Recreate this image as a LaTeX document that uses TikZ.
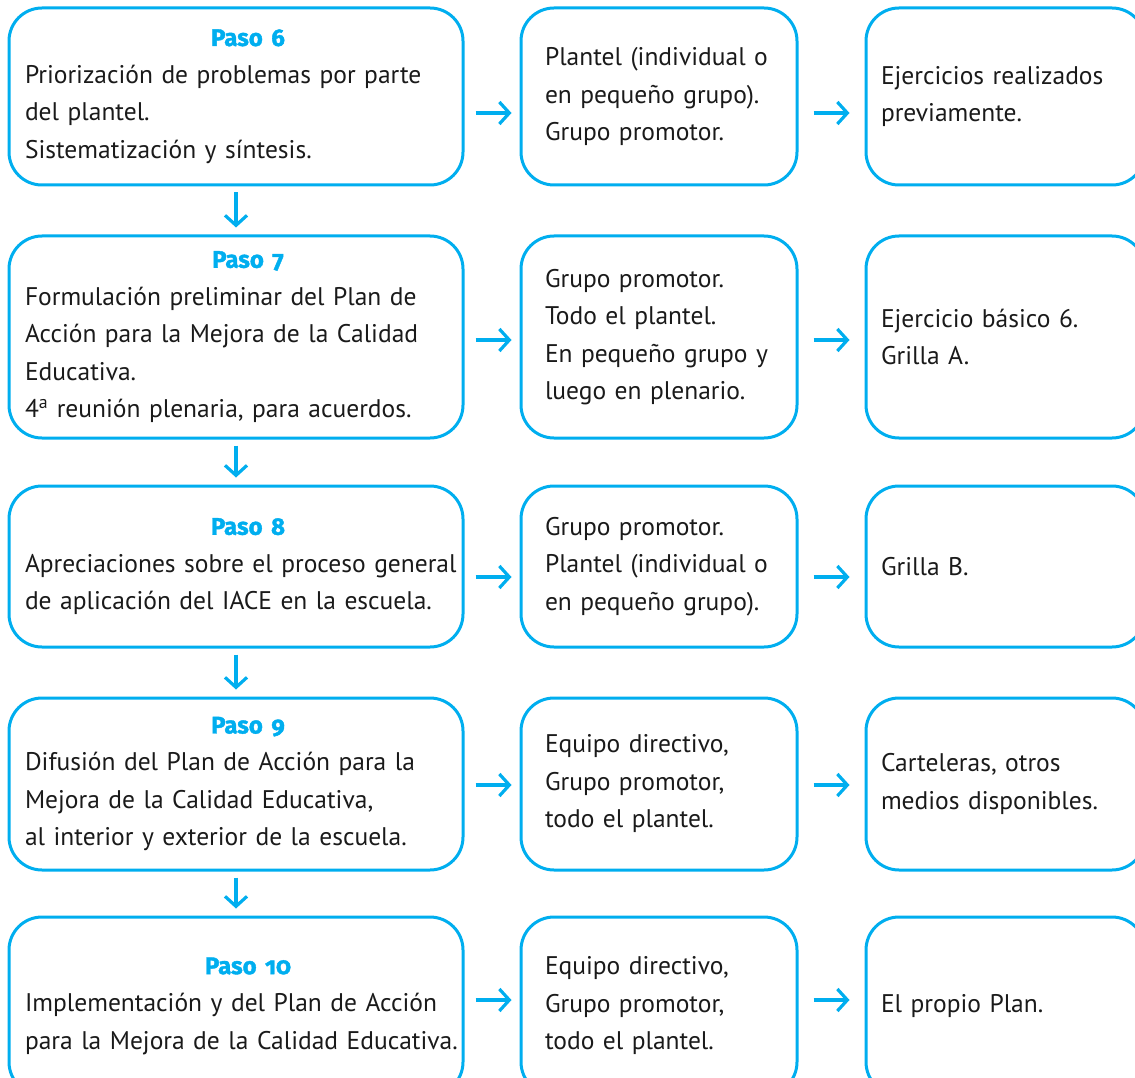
\documentclass[tikz,border=0pt]{standalone}
\usepackage{fontspec}
\setmainfont{PT Sans}
\newfontfamily\pasofont[Numbers=OldStyle,BoldFeatures={FakeBold=1.6}]{Fira Sans}
\usetikzlibrary{arrows.meta}
\definecolor{iacecyan}{RGB}{0,174,239}
\definecolor{ink}{RGB}{26,26,26}
\newcommand{\paso}[1]{{\centering\hspace*{24pt}\fontsize{24}{30}\pasofont\bfseries\color{iacecyan}Paso #1\par}}
\tikzset{box/.style={draw=iacecyan,line width=3pt,rounded corners=33pt,inner ysep=0pt,align=left,
   font=\fontsize{25.5}{37.5}\selectfont,text=ink},
 pasobox/.style={box,text width=422pt,inner xsep=16pt},
 quienbox/.style={box,text width=228pt,inner xsep=24pt},
 conbox/.style={box,text width=249pt,inner xsep=15pt},
 arrow/.style={-{Straight Barb[length=10pt,width=22pt]},draw=iacecyan,line width=3.2pt}}

\begin{document}
\begin{tikzpicture}[x=1pt,y=-1pt]
 \useasboundingbox (0,0) rectangle (1135,1078);
 \clip (0,0) rectangle (1135,1078);
 % paso 6
 \node[pasobox,minimum height=177pt] (l1) at (236,96.5) {\paso{6}Priorización de problemas por parte\\del plantel.\\Sistematización y síntesis.};
 \node[quienbox,minimum height=177pt] (m1) at (659,96.5) {Plantel (individual o\\en pequeño grupo).\\Grupo promotor.};
 \node[conbox,minimum height=177pt] (r1) at (1005.5,96.5) {Ejercicios realizados\\previamente.};
 % paso 7
 \node[pasobox,minimum height=202pt] (l2) at (236,337) {\paso{7}Formulación preliminar del Plan de\\Acción para la Mejora de la Calidad\\Educativa.\\4\textsuperscript{a} reunión plenaria, para acuerdos.};
 \node[quienbox,minimum height=202pt] (m2) at (659,337) {Grupo promotor.\\Todo el plantel.\\En pequeño grupo y\\luego en plenario.};
 \node[conbox,minimum height=202pt] (r2) at (1005.5,337) {Ejercicio básico 6.\\Grilla A.};
 % paso 8
 \node[pasobox,minimum height=161pt] (l3) at (236,566.5) {\paso{8}\mbox{Apreciaciones sobre el proceso general}\\de aplicación del IACE en la escuela.};
 \node[quienbox,minimum height=161pt] (m3) at (659,566.5) {Grupo promotor.\\Plantel (individual o\\en pequeño grupo).};
 \node[conbox,minimum height=161pt] (r3) at (1005.5,566.5) {Grilla B.};
 % paso 9
 \node[pasobox,minimum height=172pt] (l4) at (236,784) {\paso{9}Difusión del Plan de Acción para la\\Mejora de la Calidad Educativa,\\al interior y exterior de la escuela.};
 \node[quienbox,minimum height=172pt] (m4) at (659,784) {Equipo directivo,\\Grupo promotor,\\todo el plantel.};
 \node[conbox,minimum height=172pt] (r4) at (1005.5,784) {Carteleras, otros\\medios disponibles.};
 % paso 10
 \node[pasobox,minimum height=178pt] (l5) at (236,1006) {\paso{10}Implementación y del Plan de Acción\\\mbox{para la Mejora de la Calidad Educativa.}};
 \node[quienbox,minimum height=178pt] (m5) at (659,1006) {Equipo directivo,\\Grupo promotor,\\todo el plantel.};
 \node[conbox,minimum height=178pt] (r5) at (1005.5,1006) {El propio Plan.};
 % flechas
 \foreach \r/\dy in {1/-16.5,2/-3,3/-10.5,4/-1,5/6}{
  \draw[arrow,shorten <=11pt,shorten >=8pt] ([yshift=\dy pt]l\r.east) -- ([yshift=\dy pt]m\r.west);
  \draw[arrow,shorten <=15pt,shorten >=15pt] ([yshift=\dy pt]m\r.east) -- ([yshift=\dy pt]r\r.west);
 }
 \foreach \r/\s in {1/2,2/3,3/4,4/5}
  \draw[arrow,shorten <=6pt,shorten >=7pt] (l\r.south) -- (l\s.north);
\end{tikzpicture}
\end{document}
